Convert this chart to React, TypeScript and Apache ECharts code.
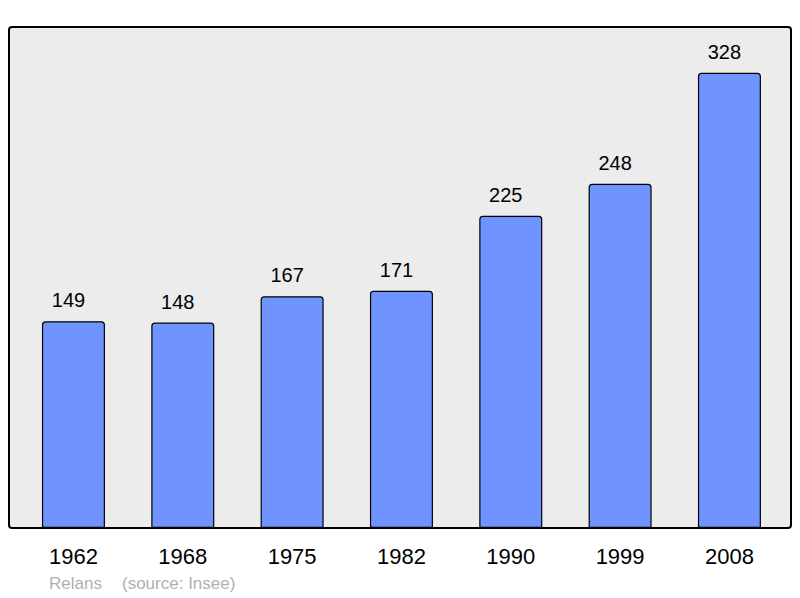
import React, { useEffect, useRef } from "react";
import * as echarts from "echarts";

const categories = ["1962", "1968", "1975", "1982", "1990", "1999", "2008"];
const population = [149, 148, 167, 171, 225, 248, 328];
const footerName = "Relans";
const footerSource = "(source: Insee)";

export default function App() {
  const ref = useRef<HTMLDivElement>(null);
  useEffect(() => {
    if (!ref.current) return;
    const chart = echarts.init(ref.current, undefined, { renderer: "svg" });
    chart.setOption({
      animation: false,
      textStyle: { fontFamily: "Liberation Sans, Arial, sans-serif" },
      grid: { left: 18.8, right: 15.9, top: 27, bottom: 70, containLabel: false },
      graphic: [
        {
          type: "rect",
          z: -10,
          silent: true,
          shape: { x: 9, y: 27, width: 782, height: 501, r: 3 },
          style: { fill: "#ececec", stroke: "#000", lineWidth: 2 },
        },
        {
          type: "text",
          left: 49,
          top: 575,
          style: { text: footerName, fill: "#b0b0b0", fontSize: 17, fontFamily: "Liberation Sans, Arial, sans-serif" },
        },
        {
          type: "text",
          left: 122,
          top: 575,
          style: { text: footerSource, fill: "#b0b0b0", fontSize: 17, fontFamily: "Liberation Sans, Arial, sans-serif" },
        },
      ],
      xAxis: {
        type: "category",
        data: categories,
        axisLine: { show: false },
        axisTick: { show: false },
        axisLabel: { color: "#000", fontSize: 22, margin: 17 },
      },
      yAxis: {
        type: "value",
        min: 0,
        max: 361,
        show: false,
        splitLine: { show: false },
      },
      series: [
        {
          type: "bar",
          data: population,
          barWidth: 63,
          itemStyle: { color: "#7094ff", borderColor: "#000", borderWidth: 1.2, borderRadius: [3, 3, 0, 0] },
          label: { show: true, position: "top", distance: 11, offset: [-5, 0], color: "#000", fontSize: 20 },
        },
      ],
    });
    return () => chart.dispose();
  }, []);
  return <div ref={ref} style={{ width: 800, height: 598, position: "absolute", left: 0, top: 0 }} />;
}
